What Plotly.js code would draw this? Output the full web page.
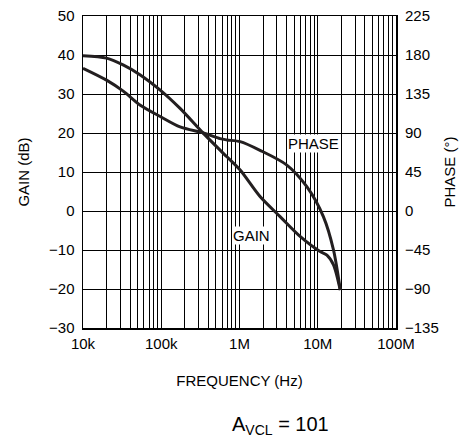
<!DOCTYPE html>
<html>
<head>
<meta charset="utf-8">
<script src="https://cdn.plot.ly/plotly-3.0.1.min.js"></script>
<style>html,body{margin:0;padding:0;background:#fff;}#chart{width:460px;height:439px;}</style>
</head>
<body>
<div id="chart"></div>
<script>
// Gain curve (Hz, dB)
const gainFreq = [1e4, 2e4, 3.3e4, 5.4e4, 9.7e4, 1.74e5, 3.46e5, 5.65e5, 6.9e5, 1.02e6, 1.83e6, 3.3e6, 6.0e6, 1.07e7, 1.31e7, 1.59e7, 1.94e7];
const gainDb   = [39.8, 39.2, 37.4, 34.9, 31.0, 26.3, 19.9, 15.6, 13.9, 10.5, 3.7, -1.45, -6.6, -10.4, -11.3, -13.8, -20.3];
// Phase curve (Hz, degrees)
const phaseFreq = [1e4, 2e4, 3.3e4, 5.4e4, 9.7e4, 1.74e5, 3.46e5, 5.65e5, 6.9e5, 1.02e6, 1.83e6, 4.03e6, 7.25e6, 1.18e7, 1.59e7, 1.94e7];
const phaseDeg  = [164.7, 151, 138, 122, 109, 97, 90, 83.5, 82, 80, 70, 53, 28, -6.5, -45, -91];
// Axis ticks
const decadeVals = [1e4, 1e5, 1e6, 1e7, 1e8];
const decadeLabels = ['10k', '100k', '1M', '10M', '100M'];

const xTickVals = [], xTickText = [];
for (let d = 4; d < 8; d++) {
  for (let m = 1; m < 10; m++) {
    const v = m * Math.pow(10, d);
    xTickVals.push(v);
    const i = decadeVals.indexOf(v);
    xTickText.push(i >= 0 ? decadeLabels[i] : '');
  }
}
xTickVals.push(1e8); xTickText.push('100M');

const font = {family: 'Liberation Sans, Arial, sans-serif', size: 15, color: '#000'};
const lineColor = '#231f20';

const traces = [
  {x: gainFreq, y: gainDb, type: 'scatter', mode: 'lines', name: 'GAIN',
   line: {color: lineColor, width: 3, shape: 'spline', smoothing: 0.8}, yaxis: 'y', hoverinfo: 'skip'},
  {x: phaseFreq, y: phaseDeg, type: 'scatter', mode: 'lines', name: 'PHASE',
   line: {color: lineColor, width: 3, shape: 'spline', smoothing: 0.8}, yaxis: 'y2', hoverinfo: 'skip'}
];

const layout = {
  width: 460, height: 439,
  margin: {l: 83, r: 64, t: 16, b: 111},
  paper_bgcolor: '#fff', plot_bgcolor: '#fff',
  showlegend: false,
  font: font,
  xaxis: {
    type: 'log', range: [4, 8],
    tickmode: 'array', tickvals: xTickVals, ticktext: xTickText,
    showgrid: true, gridcolor: '#000', gridwidth: 1,
    showline: true, linecolor: '#000', linewidth: 1.5, mirror: true,
    ticks: '', zeroline: false, tickfont: font, ticklabelstandoff: 1,
    title: {text: 'FREQUENCY (Hz)', font: font, standoff: 25}
  },
  yaxis: {
    range: [-30, 50], dtick: 10, tick0: 0,
    showgrid: true, gridcolor: '#000', gridwidth: 1,
    showline: true, linecolor: '#000', linewidth: 1.5, mirror: true,
    ticks: '', zeroline: false, tickfont: font, ticklabelstandoff: 4,
    title: {text: 'GAIN (dB)', font: font, standoff: 15.5}
  },
  yaxis2: {
    range: [-135, 225], dtick: 45, tick0: 0,
    overlaying: 'y', side: 'right',
    showgrid: false, zeroline: false, ticks: '', showline: false,
    tickfont: font, ticklabelstandoff: 8,
    title: {text: 'PHASE (°)', font: font, standoff: 6}
  },
  annotations: [
    {x: Math.log10(8.9e6), y: 78, xref: 'x', yref: 'y2', text: 'PHASE', showarrow: false,
     font: font, bgcolor: '#fff', borderpad: 0},
    {x: Math.log10(1.42e6), y: -6.3, xref: 'x', yref: 'y', text: 'GAIN', showarrow: false,
     font: font, bgcolor: '#fff', borderpad: 0},
    {x: 0, y: 0, xref: 'paper', yref: 'paper', yanchor: 'top', text: 'A<sub>VCL</sub> = 101', showarrow: false,
     font: {family: font.family, size: 20, color: '#000'}}
  ]
};
// A_VCL annotation positioned in pixels -> convert to paper coords
const pw = 460 - 83 - 64, ph = 439 - 16 - 111;
layout.annotations[2].x = (280 - 83) / pw;
layout.annotations[2].y = (328 - 411) / ph;

Plotly.newPlot('chart', traces, layout, {displayModeBar: false, staticPlot: true});
</script>
</body>
</html>
